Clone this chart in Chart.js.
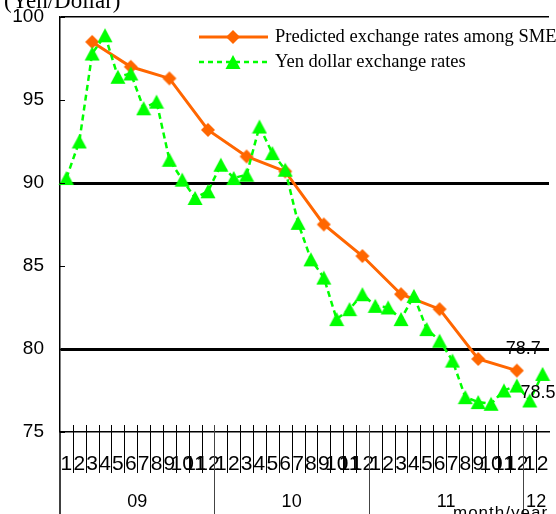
<!DOCTYPE html>
<html>
<head>
<meta charset="utf-8">
<script src="https://cdn.jsdelivr.net/npm/chart.js@4/dist/chart.umd.min.js"></script>
<style>
  html, body { margin: 0; padding: 0; background: #fff; overflow: hidden; }
  #wrap { width: 556px; height: 514px; position: relative; }
</style>
</head>
<body>
<div id="wrap"><canvas id="c" width="556" height="514"></canvas></div>
<script>
// Monthly axis: Jan 2009 – Feb 2012
const monthLabels = [
  '1','2','3','4','5','6','7','8','9','10','11','12',
  '1','2','3','4','5','6','7','8','9','10','11','12',
  '1','2','3','4','5','6','7','8','9','10','11','12',
  '1','2'
];
const yearLabels = ['09', '10', '11', '12'];
const monthsPerYear = [12, 12, 12, 2];

// Monthly average yen/dollar rate
const actualRates = [
  90.3, 92.5, 97.8, 98.9, 96.4, 96.6, 94.5, 94.9, 91.4, 90.2, 89.1, 89.5,
  91.1, 90.3, 90.5, 93.4, 91.8, 90.8, 87.6, 85.4, 84.3, 81.8, 82.4, 83.3,
  82.6, 82.5, 81.8, 83.2, 81.2, 80.5, 79.3, 77.1, 76.8, 76.7, 77.5, 77.8,
  76.9, 78.5
];

// Quarterly survey: rate predicted by SMEs
const predictedRates = [
  null, null, 98.5, null, null, 97.0, null, null, 96.3, null, null, 93.2,
  null, null, 91.6, null, null, 90.7, null, null, 87.5, null, null, 85.6,
  null, null, 83.3, null, null, 82.4, null, null, 79.4, null, null, 78.7,
  null, null
];

const yTicks = [75, 80, 85, 90, 95, 100];
const seriesNames = ['Predicted exchange rates among SMEs', 'Yen dollar exchange rates'];
const unitLabel = '(Yen/Dollar)';
const axisTitle = 'month/year';

const ORANGE = '#ff6600';
const GREEN = '#00ff00';

// Marker images (centred on their bounding box)
function makeTriangle(color) {
  const c = document.createElement('canvas');
  c.width = 16; c.height = 16;
  const g = c.getContext('2d');
  g.fillStyle = color;
  g.beginPath();
  g.moveTo(8, 1); g.lineTo(15.5, 15); g.lineTo(0.5, 15); g.closePath();
  g.fill();
  return c;
}
function makeDiamond(color) {
  const c = document.createElement('canvas');
  c.width = 16; c.height = 16;
  const g = c.getContext('2d');
  g.fillStyle = color;
  g.beginPath();
  g.moveTo(8, 1); g.lineTo(15, 8); g.lineTo(8, 15); g.lineTo(1, 8); g.closePath();
  g.fill();
  return c;
}
const triMark = makeTriangle(GREEN);
const diaMark = makeDiamond(ORANGE);

const decor = {
  id: 'decor',
  afterDraw(chart) {
    const { ctx, chartArea: a, scales: { x, y } } = chart;
    const band = x.getPixelForValue(1) - x.getPixelForValue(0);
    const H = chart.height;
    ctx.save();

    // month tick marks at band boundaries
    ctx.strokeStyle = '#000';
    ctx.lineWidth = 1;
    const yearEnds = [];
    let acc = 0;
    monthsPerYear.forEach(m => { acc += m; yearEnds.push(acc); });
    for (let k = 1; k < monthLabels.length; k++) {
      if (yearEnds.includes(k)) continue;
      const px = Math.round(x.getPixelForValue(k) - band / 2) + 0.5;
      ctx.beginPath();
      ctx.moveTo(px, a.bottom - 7);
      ctx.lineTo(px, a.bottom + 41);
      ctx.stroke();
    }
    // year separators
    ctx.strokeStyle = '#444';
    yearEnds.slice(0, -1).forEach(k => {
      const px = Math.round(x.getPixelForValue(k) - band / 2) + 0.5;
      ctx.beginPath();
      ctx.moveTo(px, a.bottom - 7);
      ctx.lineTo(px, H);
      ctx.stroke();
    });
    // left axis continues down through the year rows
    ctx.strokeStyle = '#000';
    ctx.lineWidth = 1.5;
    ctx.beginPath();
    ctx.moveTo(a.left, a.bottom);
    ctx.lineTo(a.left, H);
    ctx.stroke();

    // inner tick marks on the value axis
    ctx.lineWidth = 1;
    yTicks.forEach(v => {
      const py = Math.round(y.getPixelForValue(v)) + 0.5;
      ctx.beginPath();
      ctx.moveTo(a.left, py);
      ctx.lineTo(a.left + 5, py);
      ctx.stroke();
    });

    // year labels
    ctx.fillStyle = '#000';
    ctx.font = '18px "Liberation Sans", Arial, sans-serif';
    ctx.textAlign = 'center';
    ctx.textBaseline = 'alphabetic';
    let start = 0;
    yearLabels.forEach((lab, i) => {
      const c0 = x.getPixelForValue(start);
      const c1 = x.getPixelForValue(start + monthsPerYear[i] - 1);
      ctx.fillText(lab, (c0 + c1) / 2, a.bottom + 75);
      start += monthsPerYear[i];
    });

    // axis title
    ctx.textAlign = 'left';
    ctx.font = '17px "Liberation Sans", Arial, sans-serif';
    try { ctx.letterSpacing = '1px'; } catch (e) {}
    ctx.fillText(axisTitle, 453, 518);
    try { ctx.letterSpacing = '0px'; } catch (e) {}

    // unit label
    ctx.font = '23px "Liberation Serif", "Times New Roman", serif';
    ctx.fillText(unitLabel, 4, 8);

    // value labels on the latest points
    ctx.font = '18px "Liberation Sans", Arial, sans-serif';
    const lastPred = predictedRates.reduce((p, v, i) => (v !== null ? i : p), -1);
    const lastAct = actualRates.length - 1;
    ctx.fillText(predictedRates[lastPred].toFixed(1),
      x.getPixelForValue(lastPred) - 11, y.getPixelForValue(predictedRates[lastPred]) - 16.5);
    ctx.fillText(actualRates[lastAct].toFixed(1),
      x.getPixelForValue(lastAct) - 22, y.getPixelForValue(actualRates[lastAct]) + 24);

    // legend
    const lx0 = 199, lx1 = 268, mx = 233;
    const rows = [
      { y: 37, color: ORANGE, dash: [], width: 3, mark: diaMark, text: seriesNames[0] },
      { y: 62, color: GREEN, dash: [5, 4], width: 2.5, mark: triMark, text: seriesNames[1] }
    ];
    rows.forEach(r => {
      ctx.strokeStyle = r.color;
      ctx.lineWidth = r.width;
      ctx.setLineDash(r.dash);
      ctx.beginPath();
      ctx.moveTo(lx0, r.y);
      ctx.lineTo(lx1, r.y);
      ctx.stroke();
      ctx.setLineDash([]);
      ctx.drawImage(r.mark, mx - 8, r.y - 8);
      ctx.fillStyle = '#000';
      ctx.font = '18.5px "Liberation Serif", "Times New Roman", serif';
      ctx.textAlign = 'left';
      ctx.fillText(r.text, 275, r.y + 5);
    });

    ctx.restore();
  }
};

new Chart(document.getElementById('c'), {
  type: 'line',
  data: {
    labels: monthLabels,
    datasets: [
      {
        label: seriesNames[0],
        data: predictedRates,
        borderColor: ORANGE,
        backgroundColor: ORANGE,
        borderWidth: 3,
        pointStyle: diaMark,
        spanGaps: true,
        tension: 0,
        order: 1
      },
      {
        label: seriesNames[1],
        data: actualRates,
        borderColor: GREEN,
        backgroundColor: GREEN,
        borderWidth: 2.5,
        borderDash: [6, 4],
        pointStyle: triMark,
        tension: 0,
        order: 0
      }
    ]
  },
  options: {
    responsive: false,
    animation: false,
    events: [],
    layout: { padding: { top: 17, right: 4, left: 0, bottom: 0 } },
    plugins: {
      legend: { display: false },
      tooltip: { enabled: false },
      title: { display: false }
    },
    scales: {
      x: {
        type: 'category',
        offset: true,
        grid: { display: false, offset: true },
        border: { display: true, color: '#000', width: 1.5 },
        ticks: {
          color: '#000',
          autoSkip: false,
          maxRotation: 0,
          minRotation: 0,
          padding: 12,
          font: { family: '"Liberation Sans Narrow", "Liberation Sans", Arial, sans-serif', size: 21 }
        },
        afterFit(s) { s.height = 82; s.paddingLeft = 0; s.paddingRight = 0; }
      },
      y: {
        min: 75,
        max: 100,
        afterBuildTicks(s) { s.ticks = yTicks.map(v => ({ value: v })); },
        grid: {
          drawTicks: false,
          color(ctx) {
            const v = ctx.tick && ctx.tick.value;
            return (v === 80 || v === 90 || v === 100) ? '#000' : 'rgba(0,0,0,0)';
          },
          lineWidth(ctx) {
            const v = ctx.tick && ctx.tick.value;
            return (v === 80 || v === 90) ? 3 : (v === 100 ? 1.5 : 0);
          }
        },
        border: { display: true, color: '#000', width: 1.5 },
        ticks: {
          color: '#000',
          padding: 16,
          font: { family: '"Liberation Sans", Arial, sans-serif', size: 19 }
        },
        afterFit(s) { s.width = 60; s.paddingTop = 0; s.paddingBottom = 0; }
      }
    }
  },
  plugins: [decor]
});
</script>
</body>
</html>
